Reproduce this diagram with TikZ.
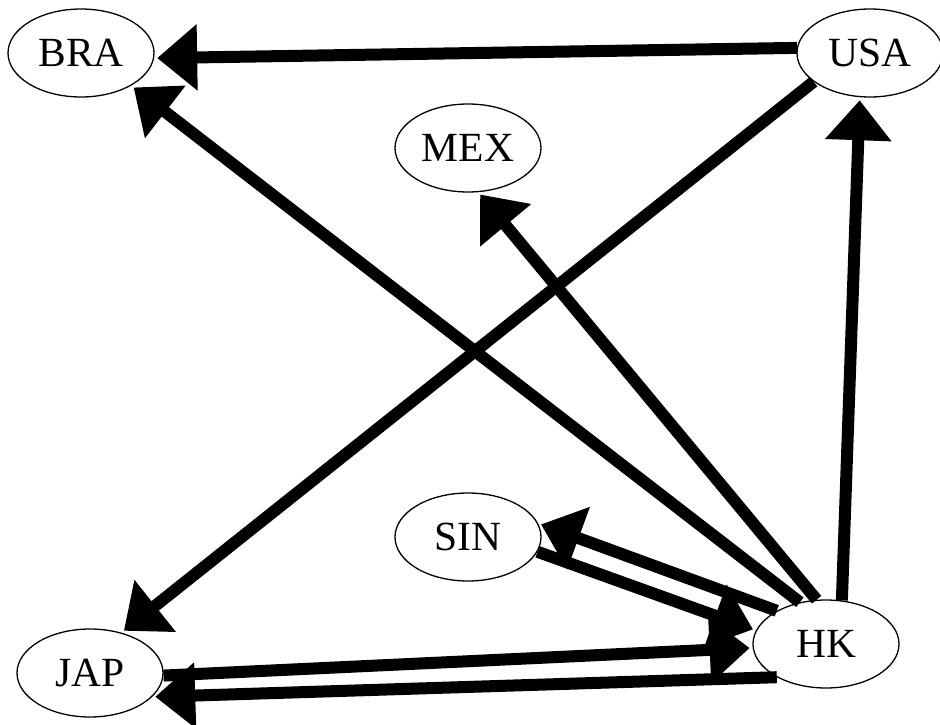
\documentclass[tikz,border=0pt]{standalone}
\usepackage{fontspec}
\setmainfont{Liberation Serif}
\usepackage{tikz}
\usetikzlibrary{positioning,shapes.geometric,arrows.meta}

\begin{document}
\begin{tikzpicture}[on grid,
    country/.style={ellipse, draw, line width=1.3pt, minimum width=146pt, minimum height=88pt, inner sep=0pt, font=\fontsize{41.5}{48}\selectfont},
    flow/.style={line width=12pt, -{Triangle[length=40pt,width=64pt]}, shorten >=3pt}]
        \useasboundingbox (0pt,0pt) rectangle (940pt,-725pt);
        \node (bra) [country] at (81pt,-53pt) {BRA};
        \node (usa) [country, right=789pt of bra] {USA};
        \node (mex) [country, below right=95pt and 387pt of bra] {MEX};
        \node (sin) [country, below=389pt of mex] {SIN};
        \node (hk) [country, below left=591pt and 44pt of usa] {HK};
        \node (jap) [country, below right=620pt and 9pt of bra] {JAP};

        \draw[flow] (usa.176) -- (bra.-4);
        \draw[flow] (hk.122) -- (bra.-33);
        \draw[flow] (hk.102) -- (mex.-77);
        \draw[flow] (hk.70) -- (usa.-103);
        \draw[flow] (usa.207) -- (jap.52);
        \draw[flow] (hk.146) -- (sin.11);
        \draw[flow] (sin.-12) -- (hk.169);
        \draw[flow] (jap.-2) -- (hk.183);
        \draw[flow] (hk.214) -- (jap.-21);
    \end{tikzpicture}
\end{document}
